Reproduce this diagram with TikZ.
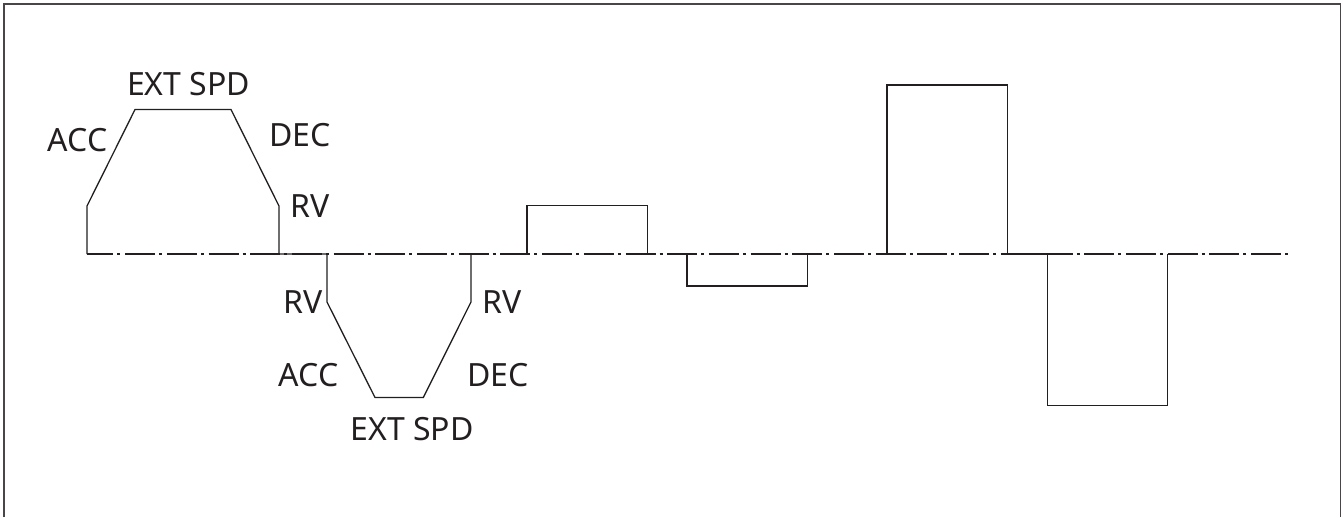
\documentclass[tikz,border=0pt]{standalone}
\usepackage{fontspec}
\newfontfamily\lblfont{Noto Sans}
\definecolor{ink}{HTML}{231F20}
\definecolor{frame}{HTML}{4A4546}
\begin{document}
\begin{tikzpicture}[x=1pt,y=-1pt,
  wave/.style={draw=ink,line width=1.3pt,line join=miter},
  centerline/.style={draw=ink,line width=1.2pt,dash pattern=on 30pt off 4pt on 3pt off 4.7pt,dash phase=3.6pt},
  lbl/.style={inner sep=0pt,anchor=base,font=\lblfont\fontsize{32}{32}\selectfont,text=ink}]
\useasboundingbox (0,0) rectangle (1343,517);
\draw[draw=frame,line width=1.6pt] (4,517) -- (4,3.8) -- (1340.5,3.8) -- (1340.5,517);
% waveform
\coordinate (a0) at (87,254);
\coordinate (a1) at (87,206);
\coordinate (a2) at (135,109.5);
\coordinate (a3) at (231,109.5);
\coordinate (a4) at (279,206);
\coordinate (a5) at (279,254);
\coordinate (b0) at (327,254);
\coordinate (b1) at (327,302);
\coordinate (b2) at (375,397.5);
\coordinate (b3) at (423.3,397.5);
\coordinate (b4) at (471,302);
\coordinate (b5) at (471,254);
\draw[wave] (a0) -- (a1) -- (a2) -- (a3) -- (a4) -- (a5) -- (b0) -- (b1) -- (b2) -- (b3) -- (b4) -- (b5);
\draw[wave] (527,254) -- (527,205.3) -- (647.3,205.3) -- (647.3,254);
\draw[wave] (687,254) -- (687,286) -- (807.3,286) -- (807.3,254);
\draw[wave] (887,254) -- (887,85) -- (1007.3,85) -- (1007.3,254) -- (1047.3,254) -- (1047.3,405.7) -- (1167.3,405.7) -- (1167.3,254);
% center line
\coordinate (c0) at (87,254);
\coordinate (c1) at (1288,254);
\draw[centerline] (c0) -- (c1);
% labels
\node[lbl] (l1) at (188.5,95) {EXT SPD};
\node[lbl] (l2) at (77.5,151.7) {ACC};
\node[lbl] (l3) at (300,146.7) {DEC};
\node[lbl] (l4) at (310.5,217.3) {RV};
\node[lbl] (l5) at (303.3,313.3) {RV};
\node[lbl] (l6) at (502.3,313.3) {RV};
\node[lbl] (l7) at (308.8,386.7) {ACC};
\node[lbl] (l8) at (498.3,386.7) {DEC};
\node[lbl] (l9) at (412,440) {EXT SPD};
\end{tikzpicture}
\end{document}
